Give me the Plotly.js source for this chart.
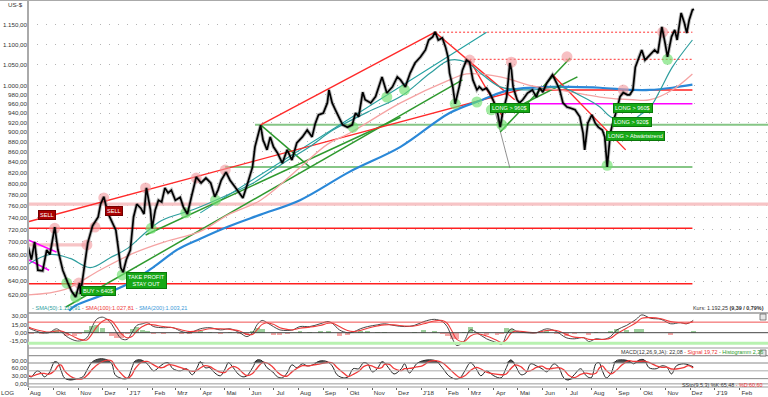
<!DOCTYPE html>
<html><head><meta charset="utf-8">
<script src="https://cdn.plot.ly/plotly-3.0.1.min.js"></script>
<style>html,body{margin:0;padding:0;background:#fff}#chart{width:768px;height:397px}</style>
</head><body><div id="chart"></div>
<script>
// ---------- DATA ----------
const priceDates = ['2016-08-30','2016-09-03','2016-09-07','2016-09-11','2016-09-17','2016-09-22','2016-09-26','2016-10-02','2016-10-06','2016-10-12','2016-10-18','2016-10-23','2016-10-28','2016-11-02','2016-11-03','2016-11-08','2016-11-12','2016-11-18','2016-11-25','2016-11-28','2016-12-02','2016-12-07','2016-12-11','2016-12-17','2016-12-20','2016-12-23','2016-12-26','2016-12-30','2017-01-04','2017-01-08','2017-01-12','2017-01-17','2017-01-21','2017-01-24','2017-01-29','2017-01-31','2017-02-04','2017-02-08','2017-02-12','2017-02-16','2017-02-20','2017-02-24','2017-03-01','2017-03-07','2017-03-11','2017-03-16','2017-03-21','2017-03-27','2017-04-02','2017-04-08','2017-04-14','2017-04-19','2017-04-23','2017-04-27','2017-05-03','2017-05-08','2017-05-14','2017-05-20','2017-05-24','2017-05-30','2017-06-05','2017-06-08','2017-06-12','2017-06-15','2017-06-18','2017-06-23','2017-06-27','2017-07-01','2017-07-06','2017-07-12','2017-07-18','2017-07-24','2017-07-30','2017-08-06','2017-08-12','2017-08-18','2017-08-22','2017-08-26','2017-09-01','2017-09-06','2017-09-08','2017-09-12','2017-09-16','2017-09-20','2017-09-25','2017-10-01','2017-10-07','2017-10-11','2017-10-15','2017-10-20','2017-10-23','2017-10-30','2017-11-05','2017-11-13','2017-11-19','2017-11-26','2017-12-02','2017-12-06','2017-12-12','2017-12-18','2017-12-24','2017-12-31','2018-01-06','2018-01-10','2018-01-15','2018-01-18','2018-01-22','2018-01-27','2018-01-31','2018-02-03','2018-02-05','2018-02-09','2018-02-12','2018-02-17','2018-02-21','2018-02-26','2018-03-02','2018-03-06','2018-03-11','2018-03-14','2018-03-18','2018-03-23','2018-03-27','2018-03-31','2018-04-05','2018-04-09','2018-04-12','2018-04-17','2018-04-21','2018-04-23','2018-04-25','2018-04-30','2018-05-03','2018-05-07','2018-05-13','2018-05-19','2018-05-24','2018-05-28','2018-06-01','2018-06-06','2018-06-10','2018-06-13','2018-06-18','2018-06-22','2018-06-26','2018-07-01','2018-07-05','2018-07-11','2018-07-17','2018-07-21','2018-07-23','2018-07-27','2018-08-01','2018-08-05','2018-08-09','2018-08-14','2018-08-17','2018-08-20','2018-08-24','2018-08-27','2018-09-01','2018-09-05','2018-09-09','2018-09-14','2018-09-17','2018-09-21','2018-09-24','2018-09-27','2018-10-02','2018-10-06','2018-10-10','2018-10-15','2018-10-18','2018-10-22','2018-10-27','2018-10-31','2018-11-03','2018-11-08','2018-11-12','2018-11-15','2018-11-20','2018-11-24','2018-11-27','2018-11-30','2018-12-04','2018-12-06'];
const priceValues = [692,672,700,656,655,687,680,724,687,656,638,625,617,637,621,665,698,726,741,763,776,748,736,719,690,660,653,672,687,741,763,756,746,792,753,722,753,770,767,792,783,788,770,775,758,746,776,812,801,810,801,776,788,806,821,806,794,783,774,801,831,870,898,914,884,864,890,870,858,838,864,844,878,890,904,890,918,936,940,962,991,962,947,932,915,910,915,940,932,986,969,962,976,1021,984,998,1021,1014,998,1030,1054,1069,1086,1111,1119,1132,1111,1116,1093,1069,1030,998,960,998,1037,1061,1056,1014,991,998,991,995,984,969,947,910,940,975,1054,1037,998,969,962,969,984,991,975,996,986,1007,1018,1026,1007,991,962,953,951,947,932,898,864,919,936,919,910,904,890,831,898,919,947,976,985,980,980,991,1044,1061,1086,1061,1069,1078,1086,1078,1145,1103,1069,1119,1137,1111,1182,1155,1129,1163,1190,1192];

const sma50Dates = ['2016-08-30','2016-09-26','2016-10-21','2016-11-15','2016-12-10','2017-01-01','2017-01-23','2017-02-12','2017-03-26','2017-05-06','2017-06-06','2017-07-13','2017-08-15','2017-09-13','2017-10-26','2017-12-06','2018-01-12','2018-02-05','2018-02-26','2018-03-18','2018-04-09','2018-05-19','2018-06-22','2018-07-21','2018-08-11','2018-08-24','2018-09-14','2018-09-30','2018-10-12','2018-10-25','2018-11-09','2018-12-04'];
const sma50Values = [665,680,674,660,675,690,715,735,755,780,801,838,870,904,942,976,1030,1061,1056,1026,998,991,998,975,953,932,919,936,951,991,1044,1111];
const sma100Dates = ['2016-08-30','2016-10-15','2016-11-27','2017-01-08','2017-02-16','2017-04-01','2017-05-06','2017-06-15','2017-08-03','2017-09-06','2017-10-04','2017-12-06','2018-02-05','2018-02-26','2018-04-09','2018-05-19','2018-07-01','2018-08-11','2018-09-21','2018-10-12','2018-11-09','2018-12-04'];
const sma100Values = [620,628,656,682,700,717,745,770,830,875,898,962,1014,1028,1021,1000,988,975,969,969,991,1028];
const sma200Dates = ['2016-10-20','2016-10-28','2016-12-01','2017-01-01','2017-02-01','2017-03-04','2017-04-01','2017-05-06','2017-06-15','2017-08-03','2017-10-04','2017-12-06','2018-02-05','2018-03-18','2018-04-21','2018-06-10','2018-07-05','2018-08-11','2018-09-21','2018-10-12','2018-11-09','2018-12-04'];
const sma200Values = [598,605,620,636,660,688,705,725,745,770,822,870,940,969,991,998,998,996,991,991,996,1003];

const macdDates = ['2016-08-30','2016-09-03','2016-09-16','2016-09-25','2016-10-04','2016-10-10','2016-10-17','2016-10-27','2016-11-02','2016-11-11','2016-11-17','2016-11-23','2016-11-30','2016-12-06','2016-12-12','2016-12-18','2016-12-24','2016-12-31','2017-01-06','2017-01-12','2017-01-19','2017-01-25','2017-02-02','2017-02-14','2017-02-26','2017-03-09','2017-03-19','2017-04-01','2017-04-13','2017-04-26','2017-05-08','2017-05-20','2017-05-29','2017-06-05','2017-06-11','2017-06-17','2017-06-23','2017-07-01','2017-07-09','2017-07-18','2017-07-25','2017-08-03','2017-08-15','2017-08-28','2017-09-07','2017-09-13','2017-09-21','2017-10-01','2017-10-08','2017-10-17','2017-10-26','2017-11-07','2017-11-16','2017-11-28','2017-12-11','2017-12-23','2018-01-04','2018-01-17','2018-01-27','2018-02-02','2018-02-08','2018-02-14','2018-02-23','2018-03-03','2018-03-11','2018-03-23','2018-04-05','2018-04-11','2018-04-17','2018-04-23','2018-04-30','2018-05-12','2018-05-24','2018-06-06','2018-06-18','2018-06-30','2018-07-10','2018-07-22','2018-07-28','2018-08-06','2018-08-16','2018-08-24','2018-09-01','2018-09-13','2018-09-25','2018-10-02','2018-10-13','2018-10-26','2018-11-07','2018-11-19','2018-11-27','2018-12-05'];
const macdValues = [9,6,0,0,7,2,-7,-14,-15,-9,9,24,28,24,15,0,-11,-12,0,13,16,18,11,9,9,2,0,7,9,5,7,0,-7,0,15,22,18,11,5,4,5,11,11,16,20,16,5,0,1,7,11,14,16,13,11,13,20,24,20,11,-9,-23,-15,5,0,-11,-18,-21,-3,7,2,0,0,7,2,-9,-11,-9,-16,-11,-12,-7,5,13,24,32,26,24,16,18,16,22.08];
const signalValues = [10,8,3,1,3,3,-1,-8,-12,-13,-3,10,20,24,21,10,-2,-9,-7,3,11,15,14,11,9,5,2,4,7,7,6,3,-3,-3,6,15,18,15,9,6,5,8,10,13,17,17,11,4,2,4,8,12,14,14,12,12,16,21,22,17,3,-12,-16,-6,-2,-6,-14,-18,-12,0,3,1,0,4,4,-3,-8,-9,-12,-12,-12,-10,-2,8,18,26,27,25,20,18,17,19.72];
const histValues = [-1,-2,-3,-1,4,-1,-6,-6,-3,4,12,14,8,0,-6,-10,-9,-3,7,10,5,3,-3,-2,0,-3,-2,3,2,-2,1,-3,-4,3,9,7,0,-4,-4,-2,0,3,1,3,3,-1,-6,-4,-1,3,3,2,2,-1,-1,1,4,3,-2,-6,-12,-11,1,11,2,-5,-4,-3,9,7,-1,-1,0,3,-2,-6,-3,0,-4,1,0,3,7,5,6,6,-1,-1,-4,0,-1,2.36];

const stochDates = ['2016-08-30','2016-09-03','2016-09-10','2016-09-15','2016-09-19','2016-09-25','2016-10-02','2016-10-06','2016-10-10','2016-10-14','2016-10-21','2016-10-29','2016-11-06','2016-11-12','2016-11-18','2016-11-27','2016-12-06','2016-12-12','2016-12-16','2016-12-22','2016-12-28','2017-01-01','2017-01-06','2017-01-10','2017-01-17','2017-01-25','2017-02-02','2017-02-08','2017-02-14','2017-02-20','2017-02-26','2017-03-07','2017-03-15','2017-03-22','2017-03-28','2017-04-01','2017-04-07','2017-04-13','2017-04-19','2017-04-26','2017-05-02','2017-05-06','2017-05-12','2017-05-18','2017-05-24','2017-05-29','2017-06-05','2017-06-11','2017-06-17','2017-06-23','2017-06-30','2017-07-06','2017-07-12','2017-07-18','2017-07-24','2017-07-30','2017-08-06','2017-08-12','2017-08-19','2017-08-28','2017-09-06','2017-09-12','2017-09-18','2017-09-26','2017-10-02','2017-10-08','2017-10-15','2017-10-21','2017-10-26','2017-11-01','2017-11-07','2017-11-13','2017-11-16','2017-11-22','2017-11-28','2017-12-07','2017-12-11','2017-12-17','2017-12-26','2018-01-02','2018-01-11','2018-01-19','2018-01-27','2018-02-04','2018-02-12','2018-02-18','2018-02-24','2018-03-03','2018-03-10','2018-03-16','2018-03-23','2018-04-01','2018-04-10','2018-04-16','2018-04-22','2018-04-28','2018-05-05','2018-05-11','2018-05-17','2018-05-24','2018-05-31','2018-06-06','2018-06-15','2018-06-21','2018-06-27','2018-07-03','2018-07-10','2018-07-18','2018-07-25','2018-07-31','2018-08-06','2018-08-10','2018-08-14','2018-08-19','2018-08-25','2018-08-31','2018-09-08','2018-09-16','2018-09-22','2018-09-29','2018-10-05','2018-10-11','2018-10-20','2018-10-27','2018-11-02','2018-11-08','2018-11-14','2018-11-23','2018-11-29','2018-12-05'];
const stochK = [31,27,50,42,27,42,85,81,50,23,15,19,27,58,85,96,92,77,35,23,19,23,62,88,92,77,50,62,77,81,58,50,58,35,62,85,62,62,42,31,58,81,62,38,27,31,62,92,88,62,46,27,23,42,73,62,77,69,73,88,85,69,35,23,27,58,58,81,77,46,58,85,81,58,38,58,77,42,77,88,92,88,62,31,19,23,50,81,58,31,50,31,23,58,92,69,35,42,77,69,58,46,77,62,23,15,35,58,31,23,77,81,50,23,42,88,92,88,77,92,92,62,58,69,65,38,69,77,73,65.48];
const stochD = [33,29,36,40,40,37,51,69,72,51,30,19,20,35,57,80,91,88,68,45,26,21,35,58,81,86,73,63,63,73,72,63,55,48,52,61,70,66,55,45,44,57,67,60,42,32,40,62,81,80,65,45,32,30,46,59,70,69,72,77,82,81,63,42,28,36,48,66,72,68,60,63,75,75,59,51,58,59,65,69,86,89,81,60,37,24,31,51,63,57,45,38,35,37,58,73,65,49,51,63,68,58,60,62,54,33,24,36,41,37,41,60,69,51,38,51,74,89,86,86,87,82,69,63,64,57,57,62,70,60.6];

// trend lines / levels drawn on the chart: [startDate, startValue, endDate, endValue]
const redTrendLines = [['2016-08-30',733,'2018-05-07',993],['2017-06-15',915,'2018-01-18',1131],['2018-01-18',1131,'2018-04-27',969],['2018-03-02',1061,'2018-04-12',932],['2018-06-13',1026,'2018-09-12',864]];
const redLevels = [['2016-08-30','2018-12-04',722],['2016-08-30','2018-12-04',636],['2018-05-28','2018-12-04',991]];
const redDottedLevels = [['2018-01-18','2018-12-04',1131],['2018-03-02','2018-12-04',1063]];
const pinkLevels = [['2016-08-29','2019-03-08',763],['2016-08-29','2016-11-09',695]];
const magentaTrendLines = [['2016-08-30',703,'2016-10-04',684],['2016-08-30',672,'2016-09-25',656]];
const magentaLevels = [['2018-05-15','2018-12-04',960]];
const greenLevels = [['2017-06-08','2019-03-08',915],['2017-05-02','2018-12-04',831]];
const greenTrendLines = [['2017-06-15',915,'2017-08-15',831],['2016-10-16',603,'2018-02-21',1014],['2017-01-23',711,'2017-12-06',931],['2018-04-09',900,'2018-07-05',1066],['2018-04-30',953,'2018-07-14',1021]];
const grayTrendLines = [['2018-04-02',947,'2018-04-21',829]];
const tealTrendLines = [['2017-04-01',748,'2018-03-23',1131]];

const greenCircleDates = ['2016-10-17','2016-10-28','2016-12-25','2017-01-30','2017-03-14','2017-04-20','2017-10-08','2017-11-19','2017-12-11','2018-02-12','2018-03-11','2018-03-29','2018-04-11','2018-08-20','2018-11-03'];
const greenCircleValues = [637,617,649,722,748,770,910,975,991,960,964,947,915,834,1063];
const pinkCircleDates = ['2016-10-02','2016-11-01','2016-11-11','2016-11-21','2016-12-02','2017-01-23','2017-03-27','2017-05-02','2018-03-02','2018-04-23','2018-07-01','2018-09-09','2018-10-28'];
const pinkCircleValues = [722,637,695,724,774,792,810,825,1061,1056,1069,991,1131];

const yTickValues = [620,640,660,680,700,720,740,760,780,800,820,840,860,880,900,920,940,960,980,1000,1050,1100,1150];
const yTickLabels = ['620,00','640,00','660,00','680,00','700,00','720,00','740,00','760,00','780,00','800,00','820,00','840,00','860,00','880,00','900,00','920,00','940,00','960,00','980,00','1.000,00','1.050,00','1.100,00','1.150,00'];
const macdTickValues = [30,15,0,-15];
const macdTickLabels = ['30,00','15,00','0,00','-15,00'];
const stochTickValues = [0,30,60,90];
const stochTickLabels = ['0,00','30,00','60,00','90,00'];
const monthTickDates = ['2016-08-30','2016-10-01','2016-11-01','2016-12-01','2017-01-01','2017-02-01','2017-03-01','2017-04-01','2017-05-01','2017-06-01','2017-07-01','2017-08-01','2017-09-01','2017-10-01','2017-11-01','2017-12-01','2018-01-01','2018-02-01','2018-03-01','2018-04-01','2018-05-01','2018-06-01','2018-07-01','2018-08-01','2018-09-01','2018-10-01','2018-11-01','2018-12-01','2019-01-01','2019-02-01'];
const monthTickLabels = ['Aug','Okt','Nov','Dez',"J'17",'Feb','Mrz','Apr','Mai','Jun','Jul','Aug','Sep','Okt','Nov','Dez',"J'18",'Feb','Mrz','Apr','Mai','Jun','Jul','Aug','Sep','Okt','Nov','Dez',"J'19",'Feb'];

// ---------- BUILD ----------
const FN = 'Liberation Sans Narrow, Liberation Sans, Arial, sans-serif';
function segs(list){const x=[],y=[];list.forEach(s=>{x.push(s[0],s[2],null);y.push(s[1],s[3],null);});return {x,y};}
function lvls(list){const x=[],y=[];list.forEach(s=>{x.push(s[0],s[1],null);y.push(s[2],s[2],null);});return {x,y};}
function lineTrace(d,color,width,dash){return {type:'scatter',mode:'lines',x:d.x,y:d.y,line:{color:color,width:width,dash:dash||'solid'},connectgaps:false,hoverinfo:'skip',xaxis:'x',yaxis:'y'};}

const traces = [];
traces.push(lineTrace(lvls(pinkLevels),'#f7c4c6',3.2));
traces.push(lineTrace(lvls(greenLevels),'#86c686',2));
traces.push(lineTrace(lvls(redLevels),'#ff2020',1.5));
traces.push(lineTrace(lvls(redDottedLevels),'#ff3030',1,'2px,2px'));
traces.push(lineTrace(lvls(magentaLevels),'#ff00ff',1.5));
traces.push(lineTrace(segs(magentaTrendLines),'#ff00ff',1.5));
traces.push(lineTrace(segs(grayTrendLines),'#777',0.8));
traces.push(lineTrace(segs(tealTrendLines),'#20a0a0',1.1));
traces.push(lineTrace(segs(greenTrendLines),'#2f9a2f',1.5));
traces.push(lineTrace(segs(redTrendLines),'#ff2a2a',1.4));
traces.push({type:'scatter',mode:'lines',x:sma200Dates,y:sma200Values,line:{color:'#2a88d8',width:2.2,shape:'spline'},xaxis:'x',yaxis:'y',hoverinfo:'skip'});
traces.push({type:'scatter',mode:'lines',x:sma100Dates,y:sma100Values,line:{color:'#f5a3a3',width:1.3,shape:'spline'},xaxis:'x',yaxis:'y',hoverinfo:'skip'});
traces.push({type:'scatter',mode:'lines',x:sma50Dates,y:sma50Values,line:{color:'#2e9e9e',width:1.2,shape:'spline'},xaxis:'x',yaxis:'y',hoverinfo:'skip'});
traces.push({type:'scatter',mode:'markers',x:greenCircleDates,y:greenCircleValues,marker:{size:11,color:'rgba(110,225,110,0.65)',line:{width:0}},xaxis:'x',yaxis:'y',hoverinfo:'skip'});
traces.push({type:'scatter',mode:'markers',x:pinkCircleDates,y:pinkCircleValues,marker:{size:11,color:'rgba(242,150,155,0.6)',line:{width:0}},xaxis:'x',yaxis:'y',hoverinfo:'skip'});
traces.push({type:'scatter',mode:'lines',x:priceDates,y:priceValues,line:{color:'rgba(30,30,30,0.3)',width:3.6},xaxis:'x',yaxis:'y',hoverinfo:'skip'});
traces.push({type:'scatter',mode:'lines',x:priceDates,y:priceValues,line:{color:'#000',width:1.7},xaxis:'x',yaxis:'y',hoverinfo:'skip'});

// MACD panel
traces.push({type:'bar',x:macdDates,y:histValues,width:6*86400000,marker:{color:histValues.map(v=>v>=0?'rgba(90,175,90,0.6)':'rgba(240,95,95,0.55)'),line:{width:0}},xaxis:'x',yaxis:'y2',hoverinfo:'skip'});
traces.push({type:'scatter',mode:'lines',x:macdDates,y:macdValues,line:{color:'#333',width:0.9,shape:'spline'},xaxis:'x',yaxis:'y2',hoverinfo:'skip'});
traces.push({type:'scatter',mode:'lines',x:macdDates,y:signalValues,line:{color:'#f03a3a',width:1.1,shape:'spline'},xaxis:'x',yaxis:'y2',hoverinfo:'skip'});

// Stochastic panel
const hi = stochDates.map(()=>80), lo = stochDates.map(()=>20);
traces.push({type:'scatter',mode:'lines',x:stochDates,y:hi,line:{width:0},xaxis:'x',yaxis:'y3',hoverinfo:'skip'});
traces.push({type:'scatter',mode:'lines',x:stochDates,y:stochK.map(v=>Math.max(v,80)),fill:'tonexty',fillcolor:'rgba(55,55,55,0.85)',line:{width:0,shape:'spline'},xaxis:'x',yaxis:'y3',hoverinfo:'skip'});
traces.push({type:'scatter',mode:'lines',x:stochDates,y:lo,line:{width:0},xaxis:'x',yaxis:'y3',hoverinfo:'skip'});
traces.push({type:'scatter',mode:'lines',x:stochDates,y:stochK.map(v=>Math.min(v,20)),fill:'tonexty',fillcolor:'rgba(55,55,55,0.85)',line:{width:0,shape:'spline'},xaxis:'x',yaxis:'y3',hoverinfo:'skip'});
traces.push({type:'scatter',mode:'lines',x:stochDates,y:stochK,line:{color:'#222',width:1,shape:'spline'},xaxis:'x',yaxis:'y3',hoverinfo:'skip'});
traces.push({type:'scatter',mode:'lines',x:stochDates,y:stochD,line:{color:'#f03a3a',width:1.3,shape:'spline'},xaxis:'x',yaxis:'y3',hoverinfo:'skip'});

// ---------- LAYOUT ----------
const H = 387; // plot height in px (t=0,b=10)
const py = p => (H - p)/H;      // pixel row -> paper y
const px = p => (p - 28)/740;   // pixel col -> paper x
const tickFont = {family:FN,size:6.2,color:'#333'};
const labelFont = {family:FN,size:5.4,color:'#333'};

const shapes = [
  {type:'line',xref:'paper',yref:'paper',x0:-0.04,x1:1,y0:1,y1:1,line:{color:'#aaa',width:2}},
  {type:'line',xref:'paper',yref:'paper',x0:0,x1:0,y0:0,y1:1,line:{color:'#aaa',width:2}},
  {type:'line',xref:'paper',yref:'paper',x0:0,x1:1,y0:py(313),y1:py(313),line:{color:'#999',width:1.5}},
  {type:'line',xref:'paper',yref:'paper',x0:0,x1:1,y0:py(348),y1:py(348),line:{color:'#999',width:1.2}},
  {type:'line',xref:'paper',yref:'paper',x0:0,x1:1,y0:py(355.7),y1:py(355.7),line:{color:'#999',width:1.2}},
  {type:'line',xref:'paper',yref:'paper',x0:0,x1:1,y0:0,y1:0,line:{color:'#999',width:1.2}},
  {type:'line',xref:'paper',yref:'y2',x0:0,x1:1,y0:19,y1:19,line:{color:'#f05050',width:1}},
  {type:'line',xref:'paper',yref:'y2',x0:0,x1:1,y0:-19,y1:-19,line:{color:'#b8f2b0',width:3}},
  {type:'line',xref:'paper',yref:'y2',x0:0,x1:1,y0:0,y1:0,line:{color:'#444',width:1}},
  {type:'line',xref:'paper',yref:'y3',x0:0,x1:1,y0:80,y1:80,line:{color:'#888',width:1}},
  {type:'line',xref:'paper',yref:'y3',x0:0,x1:1,y0:50,y1:50,line:{color:'#aaa',width:1}},
  {type:'line',xref:'paper',yref:'y3',x0:0,x1:1,y0:20,y1:20,line:{color:'#888',width:1}},
  {type:'line',xref:'paper',yref:'y3',x0:0,x1:1,y0:0,y1:0,line:{color:'#999',width:1}},
  {type:'rect',xref:'paper',yref:'paper',x0:px(760),x1:px(766),y0:py(320),y1:py(314),fillcolor:'#e6e6e6',line:{color:'#666',width:0.8}},
  {type:'rect',xref:'paper',yref:'paper',x0:px(760),x1:px(766),y0:py(356),y1:py(350),fillcolor:'#e6e6e6',line:{color:'#666',width:0.8}}
];

function box(text,x,y,bg,bc){return {xref:'paper',yref:'paper',x:px(x),y:py(y),text:text,showarrow:false,xanchor:'center',yanchor:'middle',font:{family:FN,size:5.6,color:'#fff'},bgcolor:bg,bordercolor:bc,borderwidth:1,borderpad:1};}
const annotations = [
  {xref:'paper',yref:'paper',x:px(15),y:py(4.5),text:'US-$',showarrow:false,xanchor:'center',yanchor:'middle',font:tickFont},
  {xref:'paper',yref:'paper',x:px(7),y:py(392.5),text:'LOG',showarrow:false,xanchor:'center',yanchor:'middle',font:tickFont},
  {xref:'paper',yref:'paper',x:px(30),y:py(308),text:"<span style='color:#2e9e9e'>- SMA(50):1.110,91</span> <span style='color:#ee3a3a'>- SMA(100):1.027,81</span> <span style='color:#3a98d8'>- SMA(200):1.003,21</span>",showarrow:false,xanchor:'left',yanchor:'middle',font:{family:FN,size:5.6}},
  {xref:'paper',yref:'paper',x:px(766),y:py(308),text:'Kurs: 1.192,25 <b>(9,39 / 0,79%)</b>',showarrow:false,xanchor:'right',yanchor:'middle',font:labelFont},
  {xref:'paper',yref:'paper',x:px(765),y:py(351.5),text:"MACD(12,26,9,JA): 22,08 <span style='color:#ee3030'>- Signal 19,72</span> <span style='color:#2a9a2a'>- Histogramm 2,36</span>",showarrow:false,xanchor:'right',yanchor:'middle',font:labelFont},
  {xref:'paper',yref:'paper',x:px(765),y:py(385),text:"SSto(9,5,3) %K:65,48 <span style='color:#ee3030'>- %D:60,60</span>",showarrow:false,xanchor:'right',yanchor:'middle',font:labelFont},
  box('SELL',46.5,215.5,'#a80000','#700000'),
  box('SELL',114,211,'#a80000','#700000'),
  box('BUY > 640$',98,291,'#16a816','#0a780a'),
  box('TAKE PROFIT<br>STAY OUT',146.5,280,'#16a816','#0a780a'),
  box('LONG > 960$',510,108.5,'#16a816','#0a780a'),
  box('LONG > 960$',633,108,'#16a816','#0a780a'),
  box('LONG > 920$',631.5,122.5,'#16a816','#0a780a'),
  box('LONG > Abwärtstrend',635.5,135.5,'#16a816','#0a780a')
];

const layout = {
  width:768,height:397,margin:{l:28,r:0,t:0,b:10},
  paper_bgcolor:'#fff',plot_bgcolor:'#fff',showlegend:false,bargap:0,
  xaxis:{type:'date',range:['2016-08-29 18:00','2019-03-08'],anchor:'y3',tickvals:monthTickDates,ticktext:monthTickLabels,
         ticks:'outside',ticklen:2,tickcolor:'#666',tickfont:tickFont,ticklabelshift:7,ticklabelstandoff:-2,showgrid:false,zeroline:false,showline:false},
  yaxis:{type:'log',domain:[py(313),1],range:[Math.log10(594.8),Math.log10(1217.5)],tickvals:yTickValues,ticktext:yTickLabels,
         tickfont:tickFont,showgrid:true,gridcolor:'#b4b4b4',griddash:'1px,8px',gridwidth:1,zeroline:false,showline:false,ticks:'',anchor:'x'},
  yaxis2:{domain:[py(348),py(313)],range:[-27.5,35.4],tickvals:macdTickValues,ticktext:macdTickLabels,tickfont:tickFont,showgrid:false,zeroline:false,anchor:'x'},
  yaxis3:{domain:[0,py(355.7)],range:[-12,108],tickvals:stochTickValues,ticktext:stochTickLabels,tickfont:tickFont,showgrid:false,zeroline:false,anchor:'x'},
  shapes:shapes,annotations:annotations
};
Plotly.newPlot('chart',traces,layout,{staticPlot:true,displayModeBar:false});
</script></body></html>
